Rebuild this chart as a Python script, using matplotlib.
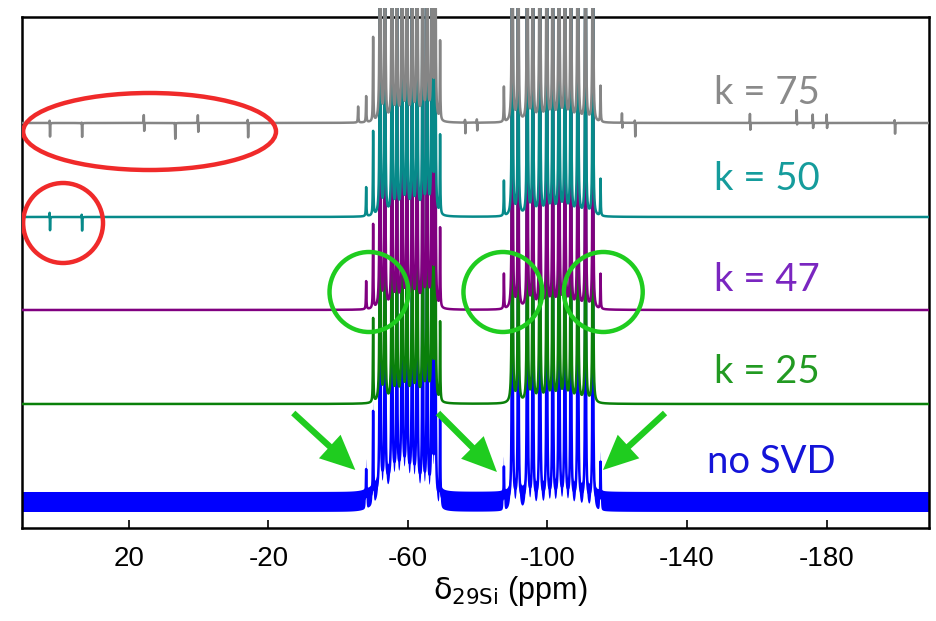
import numpy as np
import matplotlib
matplotlib.use("Agg")
import matplotlib.pyplot as plt
from matplotlib.patches import Ellipse, Rectangle, FancyArrowPatch

# ---------------- data (ppm / intensity) ----------------
# strong resonances shared by every spectrum
strong_ppm = [-50.0, -52.0, -53.4, -55.4, -56.8, -58.3, -59.7, -61.2, -62.6, -64.2,
              -65.5, -66.9, -67.8, -69.2,
              -89.9, -91.6, -94.2, -95.8, -97.8, -99.8, -101.5, -103.3, -105.0,
              -106.7, -108.7, -110.9, -113.0]
strong_height = [0.84, 8.0, 6.0, 7.0, 5.0, 8.0, 7.0, 6.0, 8.0, 6.0,
                 7.0, 8.0, 6.0, 0.79,
                 8.0, 6.0, 7.0, 6.0, 8.0, 7.0, 6.0, 8.0, 7.0,
                 6.0, 8.0, 7.0, 6.0]

# weak resonances (the ones lost at k = 25)
weak_ppm = [-45.7, -48.0, -87.5, -115.2]
weak_k75 = [0.16, 0.26, 0.35, 0.36]
weak_k50 = [0.00, 0.29, 0.35, 0.37]
weak_k47 = [0.00, 0.28, 0.35, 0.35]
weak_k25 = [0.00, 0.00, 0.00, 0.00]
weak_nosvd = [0.00, 0.30, 0.34, 0.39]

# spurious spikes (position, up, down)
spike_k75_ppm = [42.7, 33.5, 15.7, 6.8, 0.2, -14.1, -76.4, -79.8, -121.4, -125.1,
                 -158.1, -171.5, -176.1, -180.1, -199.6]
spike_k75_up = [0.05, 0.03, 0.10, 0.03, 0.10, 0.06, 0.05, 0.05, 0.11, 0.05,
                0.11, 0.14, 0.10, 0.10, 0.05]
spike_k75_down = [0.15, 0.15, 0.10, 0.17, 0.11, 0.16, 0.12, 0.09, 0.07, 0.15,
                  0.09, 0.04, 0.07, 0.07, 0.12]
spike_k50_ppm = [42.7, 33.5]
spike_k50_up = [0.07, 0.05]
spike_k50_down = [0.15, 0.15]

# no-SVD extras: broad hump, negative artefact, noise half-width
nosvd_hump = (-58.0, 0.24, 4.5)        # centre, amplitude, sigma
nosvd_dip = (-99.9, -0.20)
nosvd_noise = 0.10

labels = ["no SVD", "k = 25", "k = 47", "k = 50", "k = 75"]
offsets = [0.26, 1.24, 2.18, 3.11, 4.05]
line_colors = ["#0000ff", "#0a800a", "#800080", "#078a8a", "#858585"]
text_colors = ["#1414d8", "#229a22", "#7a26c0", "#159c9c", "#8a8a8a"]
label_y = [0.66, 1.56, 2.48, 3.49, 4.35]
tick_vals = [20, -20, -60, -100, -140, -180]
tick_text = ["20", "-20", "-60", "-100", "-140", "-180"]

# ---------------- build spectra ----------------
ppm = np.linspace(51.0, -210.0, 13051)
W = 0.08


def lor(x0, h, w=W):
    return h * w * w / ((ppm - x0) ** 2 + w * w)


def spectrum(weak, spikes=None):
    y = np.zeros_like(ppm)
    for p, h in zip(strong_ppm, strong_height):
        y += lor(p, h)
    for p, h in zip(weak_ppm, weak):
        if h > 0:
            y += lor(p, h)
    if spikes is not None:
        for p, u, d in zip(*spikes):
            y += lor(p + 0.05, u, 0.05) - lor(p - 0.05, d, 0.05)
    return y


spec_k75 = spectrum(weak_k75, (spike_k75_ppm, spike_k75_up, spike_k75_down))
spec_k50 = spectrum(weak_k50, (spike_k50_ppm, spike_k50_up, spike_k50_down))
spec_k47 = spectrum(weak_k47)
spec_k25 = spectrum(weak_k25)
spec_nosvd = spectrum(weak_nosvd)
c, a, s = nosvd_hump
spec_nosvd = spec_nosvd + a * np.exp(-0.5 * ((ppm - c) / s) ** 2)
spec_nosvd = spec_nosvd + lor(nosvd_dip[0], nosvd_dip[1], 0.1)
spectra = [spec_nosvd, spec_k25, spec_k47, spec_k50, spec_k75]

# ---------------- figure ----------------
W_PX, H_PX = 937, 621
fig = plt.figure(figsize=(W_PX / 100, H_PX / 100), dpi=100)
fig.patch.set_facecolor("white")
ax = fig.add_axes([22 / W_PX, (H_PX - 528) / H_PX, 907 / W_PX, 511 / H_PX])
ax.set_xlim(50.68, -209.39)
ax.set_ylim(0, 5.11)

clip = Rectangle((0, -0.05), 1, 1.068, transform=ax.transAxes, visible=False)
ax.add_patch(clip)

for i, (y, off, col) in enumerate(zip(spectra, offsets, line_colors)):
    if i == 0:
        band = ax.fill_between(ppm, off + y - nosvd_noise, off + y + nosvd_noise,
                               color=col, lw=0, zorder=1)
        band.set_clip_path(clip)
    ln, = ax.plot(ppm, off + y, color=col, lw=1.8, zorder=2 + i,
                  solid_capstyle="round")
    ln.set_clip_path(clip)

for lab, ly, tc in zip(labels, label_y, text_colors):
    ax.text(-163.0 if lab != "no SVD" else -164.3, ly, lab, color=tc,
            fontsize=27.5, family=["Lato", "DejaVu Sans"], ha="center",
            va="center", zorder=20)

# annotations (data coordinates)
red = "#f02a2a"
gre = "#1fcc1f"
ax.add_patch(Ellipse((14.1, 3.965), 72.5, 0.77, fill=False, ec=red, lw=3.2, zorder=25))
ax.add_patch(Ellipse((38.9, 3.05), 22.9, 0.80, fill=False, ec=red, lw=3.2, zorder=25))
for cx in [-48.8, -87.2, -116.0]:
    ax.add_patch(Ellipse((cx, 2.36), 22.6, 0.80, fill=False, ec=gre, lw=3.2, zorder=25))
for tail, tip in [((-27.1, 1.15), (-44.9, 0.58)),
                  ((-68.6, 1.15), (-85.5, 0.56)),
                  ((-133.7, 1.15), (-115.9, 0.58))]:
    ar = FancyArrowPatch(tail, tip,
                         arrowstyle="simple,head_length=2.5,head_width=2.3,tail_width=0.45",
                         mutation_scale=10, color=gre, lw=0, shrinkA=0, shrinkB=0,
                         zorder=26)
    ax.add_patch(ar)

# axes styling
for sp in ax.spines.values():
    sp.set_linewidth(1.8)
    sp.set_color("black")
ax.set_yticks([])
ax.set_xticks(tick_vals)
ax.set_xticklabels(tick_text, family=["Liberation Sans", "DejaVu Sans"], fontsize=20)
ax.tick_params(axis="x", direction="in", length=6, width=1.2, pad=13)

plt.rcParams["mathtext.fontset"] = "custom"
plt.rcParams["mathtext.rm"] = "Liberation Sans"
plt.rcParams["mathtext.it"] = "Liberation Sans"
ax.set_xlabel(r"$\mathrm{δ_{29Si}}$ (ppm)", family=["Liberation Sans", "DejaVu Sans"],
              fontsize=22, labelpad=0)
ax.xaxis.set_label_coords(0.538, -0.124)
ax.xaxis.label.set_va("center")

fig.savefig("out.png", dpi=100)
